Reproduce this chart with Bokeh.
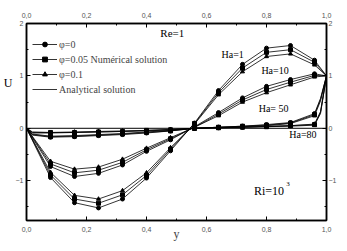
from bokeh.plotting import figure
from bokeh.models import (LinearAxis, FixedTicker, CustomJSTickFormatter, Label,
                          Span, Legend, LegendItem, Range1d)
from bokeh.embed import file_html
from bokeh.resources import INLINE

# ---------------- data ----------------
y_markers = [0.08, 0.16, 0.24, 0.32, 0.40, 0.48, 0.56, 0.64, 0.72, 0.80, 0.88, 0.96]
y_grid = [0.0, 0.08, 0.16, 0.24, 0.32, 0.40, 0.48, 0.56, 0.64, 0.72, 0.80, 0.88, 0.96, 1.0]
y_grid_bl = [0.0, 0.02, 0.08, 0.16, 0.24, 0.32, 0.40, 0.48, 0.56, 0.64, 0.72, 0.80, 0.88, 0.96, 0.98, 1.0]

u_ha1_phi0 = [0, -0.94, -1.42, -1.52, -1.35, -0.95, -0.43, 0.10, 0.72, 1.22, 1.53, 1.58, 1.30, 1.0]
u_ha1_phi005 = [0, -0.89, -1.35, -1.43, -1.27, -0.90, -0.40, 0.09, 0.68, 1.15, 1.45, 1.50, 1.26, 1.0]
u_ha1_phi01 = [0, -0.84, -1.28, -1.35, -1.19, -0.85, -0.37, 0.08, 0.64, 1.08, 1.37, 1.42, 1.21, 1.0]

u_ha10_phi0 = [0, -0.73, -0.92, -0.86, -0.70, -0.44, -0.22, 0.03, 0.30, 0.58, 0.80, 0.93, 1.04, 1.0]
u_ha10_phi005 = [0, -0.68, -0.85, -0.80, -0.65, -0.41, -0.20, 0.02, 0.27, 0.54, 0.74, 0.88, 1.01, 1.0]
u_ha10_phi01 = [0, -0.63, -0.78, -0.74, -0.59, -0.38, -0.18, 0.02, 0.24, 0.50, 0.68, 0.83, 0.98, 1.0]

u_ha50_phi0 = [0, -0.13, -0.17, -0.16, -0.14, -0.12, -0.09, -0.05, 0.0, 0.02, 0.04, 0.07, 0.11, 0.28, 0.57, 1.0]
u_ha50_phi005 = [0, -0.12, -0.16, -0.15, -0.13, -0.11, -0.08, -0.05, 0.0, 0.02, 0.04, 0.06, 0.10, 0.26, 0.55, 1.0]
u_ha50_phi01 = [0, -0.11, -0.15, -0.14, -0.12, -0.10, -0.07, -0.04, 0.0, 0.02, 0.03, 0.05, 0.09, 0.24, 0.52, 1.0]

u_ha80_phi0 = [0, -0.09, -0.09, -0.08, -0.07, -0.06, -0.05, -0.03, 0.0, 0.01, 0.02, 0.04, 0.05, 0.08, 0.32, 1.0]
u_ha80_phi005 = [0, -0.08, -0.08, -0.08, -0.07, -0.06, -0.04, -0.03, 0.0, 0.01, 0.02, 0.03, 0.05, 0.07, 0.30, 1.0]
u_ha80_phi01 = [0, -0.07, -0.08, -0.07, -0.06, -0.05, -0.04, -0.02, 0.0, 0.01, 0.02, 0.03, 0.04, 0.06, 0.28, 1.0]

legend_labels = ["\u03c6=0", "\u03c6=0.05 Num\u00e9rical solution", "\u03c6=0.1", "Analytical solution"]
x_ticks = [0.0, 0.2, 0.4, 0.6, 0.8, 1.0]
x_minor = [0.1, 0.3, 0.5, 0.7, 0.9]
y_ticks = [-1, 0, 1, 2]
y_minor = [-1.5, -0.5, 0.5, 1.5]
u_label_pos = [0.87]

# ---------------- figure ----------------
p = figure(width=339, height=243, x_range=Range1d(0, 1), y_range=Range1d(-1.76, 2.0),
           output_backend="svg", toolbar_location=None,
           min_border_left=17, min_border_right=8, min_border_top=23, min_border_bottom=21)
p.grid.visible = False
p.outline_line_color = "black"
p.outline_line_width = 1.5
p.background_fill_color = "white"
p.border_fill_color = "white"

top_axis = LinearAxis()
p.add_layout(top_axis, "above")
right_axis = LinearAxis()
p.add_layout(right_axis, "right")
bottom_axis = p.below[0]
left_axis = p.left[0]

# outer left "axis" that only carries the U label
u_axis = LinearAxis(ticker=FixedTicker(ticks=u_label_pos, minor_ticks=[]),
                    formatter=CustomJSTickFormatter(code="return 'U';"),
                    axis_line_color=None, major_tick_line_color=None,
                    minor_tick_line_color=None, major_tick_in=0, major_tick_out=0,
                    minor_tick_in=0, minor_tick_out=0, major_label_standoff=0,
                    major_label_text_font="Liberation Serif",
                    major_label_text_font_size="12px", major_label_text_color="black")
p.add_layout(u_axis, "left")

xfmt = CustomJSTickFormatter(code="return tick.toFixed(1).replace('.', ',');")
for ax in [bottom_axis, top_axis]:
    ax.ticker = FixedTicker(ticks=x_ticks, minor_ticks=x_minor)
    ax.formatter = xfmt
    ax.major_label_standoff = 6
for ax in [left_axis, right_axis]:
    ax.ticker = FixedTicker(ticks=y_ticks, minor_ticks=y_minor)
left_axis.major_label_standoff = 3
right_axis.major_label_standoff = 2
for ax in [bottom_axis, top_axis, left_axis, right_axis]:
    ax.axis_line_width = 1.5
    ax.axis_line_color = "black"
    ax.major_tick_in = 4
    ax.major_tick_out = 0
    ax.minor_tick_in = 2
    ax.minor_tick_out = 0
    ax.major_tick_line_color = "black"
    ax.minor_tick_line_color = "black"
    ax.major_label_text_font = "Liberation Sans"
    ax.major_label_text_font_size = "7px"
    ax.major_label_text_color = "#555555"

bottom_axis.axis_label = "y"
bottom_axis.axis_label_text_font = "Liberation Serif"
bottom_axis.axis_label_text_font_style = "normal"
bottom_axis.axis_label_text_font_size = "12px"
bottom_axis.axis_label_standoff = -8

p.add_layout(Span(location=0, dimension="width", line_color="black", line_width=1))

markers = ["circle", "square", "triangle"]
groups = [
    (y_grid, [u_ha1_phi0, u_ha1_phi005, u_ha1_phi01]),
    (y_grid, [u_ha10_phi0, u_ha10_phi005, u_ha10_phi01]),
    (y_grid_bl, [u_ha50_phi0, u_ha50_phi005, u_ha50_phi01]),
    (y_grid_bl, [u_ha80_phi0, u_ha80_phi005, u_ha80_phi01]),
]
first_lines = []
first_scatters = []
for gi, (ys, series) in enumerate(groups):
    idx = [ys.index(v) for v in y_markers]
    for k, us in enumerate(series):
        ln = p.line(ys, us, line_color="black", line_width=0.8)
        sc = p.scatter([ys[i] for i in idx], [us[i] for i in idx], marker=markers[k],
                       size=4, color="black")
        if gi == 0:
            first_lines.append(ln)
            first_scatters.append(sc)

items = [
    LegendItem(label=legend_labels[0], renderers=[first_lines[0], first_scatters[0]]),
    LegendItem(label=legend_labels[1], renderers=[first_lines[1], first_scatters[1]]),
    LegendItem(label=legend_labels[2], renderers=[first_lines[2], first_scatters[2]]),
    LegendItem(label=legend_labels[3], renderers=[first_lines[0]]),
]
legend = Legend(items=items, location=(6, 125), margin=0, padding=2,
                border_line_color=None, background_fill_alpha=0,
                label_text_font="Liberation Serif", label_text_font_size="10px",
                glyph_width=25, glyph_height=12, label_height=12, spacing=3,
                label_standoff=2)
p.add_layout(legend)

serif = "Liberation Serif"
def add_label(x, y, text, size, align="left", baseline="middle"):
    p.add_layout(Label(x=x, y=y, text=text, text_font=serif, text_font_size=size,
                       text_align=align, text_baseline=baseline, text_color="black"))

add_label(0.446, 1.82, "Re=1", "11px")
add_label(0.65, 1.40, "Ha=1", "10px")
add_label(0.783, 1.10, "Ha=10", "10px")
add_label(0.774, 0.38, "Ha= 50", "10px")
add_label(0.876, -0.11, "Ha=80", "10px")
add_label(0.758, -1.19, "Ri=10", "12px")
add_label(0.866, -1.06, "3", "7px")

open("out.html", "w").write(file_html(p, INLINE))
